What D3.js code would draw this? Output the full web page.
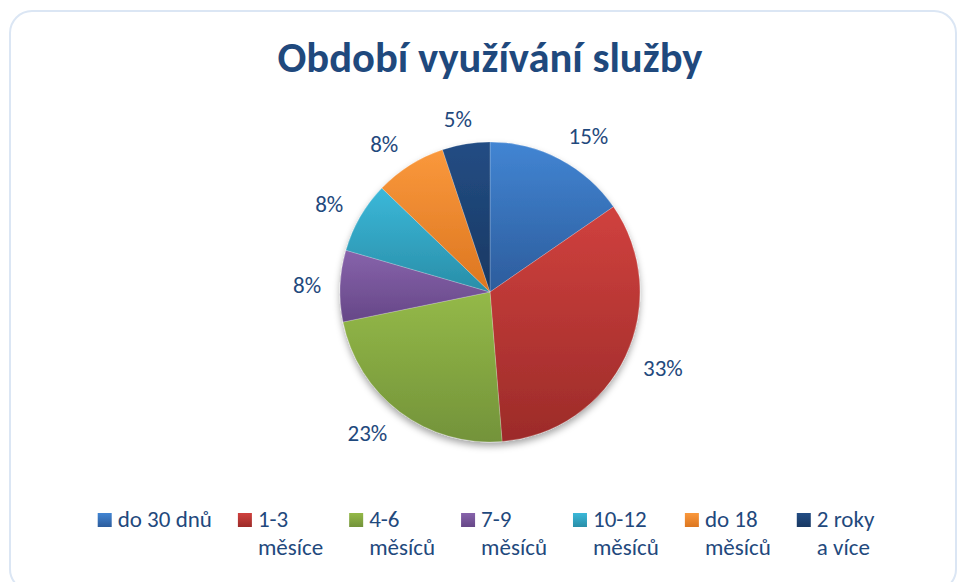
<!DOCTYPE html>
<html>
<head>
<meta charset="utf-8">
<script src="https://cdn.jsdelivr.net/npm/d3@7/dist/d3.min.js"></script>
<style>
  body { margin: 0; background: #fff; }
  svg { display: block; }
  text { font-family: Carlito, Calibri, Lato, sans-serif; }
</style>
</head>
<body>
<svg id="chart" width="957" height="582"></svg>
<script>
// chart data
const title = "Období využívání služby";
const categories = ["do 30 dnů", "1-3 měsíce", "4-6 měsíců", "7-9 měsíců", "10-12 měsíců", "do 18 měsíců", "2 roky a více"];
// legend wrapping as in the original
const legendLines = [["do 30 dnů"], ["1-3", "měsíce"], ["4-6", "měsíců"], ["7-9", "měsíců"], ["10-12", "měsíců"], ["do 18", "měsíců"], ["2 roky", "a více"]];
const counts = [6, 13, 9, 3, 3, 3, 2];
const colorsTop = ["#4285d3", "#d0413e", "#94b948", "#8763ab", "#3bb8d9", "#fa983c", "#234d84"];
const colorsBottom = ["#2c5c9c", "#9c2b29", "#73933a", "#664787", "#298ea8", "#dc7620", "#183862"];

const W = 957, H = 582;
const cx = 490, cy = 292, R = 150;
const textColor = "#1f497d";

const svg = d3.select("#chart");
const defs = svg.append("defs");

// frame
svg.append("rect")
  .attr("x", 10).attr("y", 11)
  .attr("width", 946).attr("height", 580)
  .attr("rx", 22)
  .attr("fill", "#fff")
  .attr("stroke", "#dbe6f4")
  .attr("stroke-width", 2);

// title, sized to the original's width
const titleText = svg.append("text")
  .attr("x", cx).attr("y", 72)
  .attr("text-anchor", "middle")
  .attr("font-size", 40)
  .attr("font-weight", "bold")
  .attr("fill", textColor)
  .text(title);
const tl = titleText.node().getComputedTextLength();
titleText.attr("font-size", 40 * 425 / tl);

// gradients
categories.forEach((c, i) => {
  const g = defs.append("linearGradient")
    .attr("id", "grad" + i)
    .attr("x1", 0).attr("y1", 0).attr("x2", 0).attr("y2", 1);
  g.append("stop").attr("offset", "0%").attr("stop-color", colorsTop[i]);
  g.append("stop").attr("offset", "100%").attr("stop-color", colorsBottom[i]);
});

const shadow = defs.append("filter")
  .attr("id", "shadow")
  .attr("x", "-20%").attr("y", "-20%").attr("width", "140%").attr("height", "140%");
shadow.append("feDropShadow")
  .attr("dx", 0).attr("dy", 4)
  .attr("stdDeviation", 3.5)
  .attr("flood-color", "#000")
  .attr("flood-opacity", 0.35);

const total = d3.sum(counts);
const pie = d3.pie().sort(null).value(d => d);
const arcs = pie(counts);
const arc = d3.arc().innerRadius(0).outerRadius(R);

const pieG = svg.append("g")
  .attr("transform", `translate(${cx},${cy})`)
  .attr("filter", "url(#shadow)");

pieG.selectAll("path")
  .data(arcs)
  .join("path")
  .attr("d", arc)
  .attr("fill", (d, i) => `url(#grad${i})`)
  .attr("stroke", "rgba(255,255,255,0.35)")
  .attr("stroke-width", 0.6);

// data labels, outside end
const fmt = d3.format(".0%");
const labelG = svg.append("g").attr("transform", `translate(${cx},${cy})`);
labelG.selectAll("text")
  .data(arcs)
  .join("text")
  .attr("font-size", 23)
  .attr("fill", textColor)
  .attr("text-anchor", "middle")
  .attr("dy", "0.36em")
  .text(d => fmt(d.value / total))
  .each(function (d) {
    const t = d3.select(this);
    const w = this.getComputedTextLength();
    const h = 20;
    const a = (d.startAngle + d.endAngle) / 2;
    const ux = Math.sin(a), uy = -Math.cos(a);
    const fx = Math.min(1, Math.abs(ux) * 2);
    const x = (R + 16) * ux + Math.sign(ux) * fx * (w / 2 + 3);
    const y = (R + 16) * uy + uy * h / 2;
    t.attr("x", x).attr("y", y);
  });

// legend
const legend = svg.append("g");
const items = legend.selectAll("g")
  .data(categories)
  .join("g");

items.append("rect")
  .attr("width", 14).attr("height", 14)
  .attr("y", -14)
  .attr("fill", (d, i) => `url(#grad${i})`);

items.each(function (d, i) {
  const t = d3.select(this).append("text")
    .attr("x", 20)
    .attr("font-size", 23)
    .attr("fill", textColor);
  t.selectAll("tspan")
    .data(legendLines[i])
    .join("tspan")
    .attr("x", 20)
    .attr("y", (s, j) => j * 28)
    .text(s => s);
});

const gap = 26;
let lx = 0;
const offsets = [];
items.each(function () {
  offsets.push(lx);
  const tw = d3.max(d3.select(this).selectAll("tspan").nodes(), n => n.getComputedTextLength());
  lx += 20 + tw + gap;
});
const legendW = lx - gap;
const lx0 = cx - legendW / 2 - 4;
items.attr("transform", (d, i) => `translate(${lx0 + offsets[i]},527)`);
</script>
</body>
</html>
